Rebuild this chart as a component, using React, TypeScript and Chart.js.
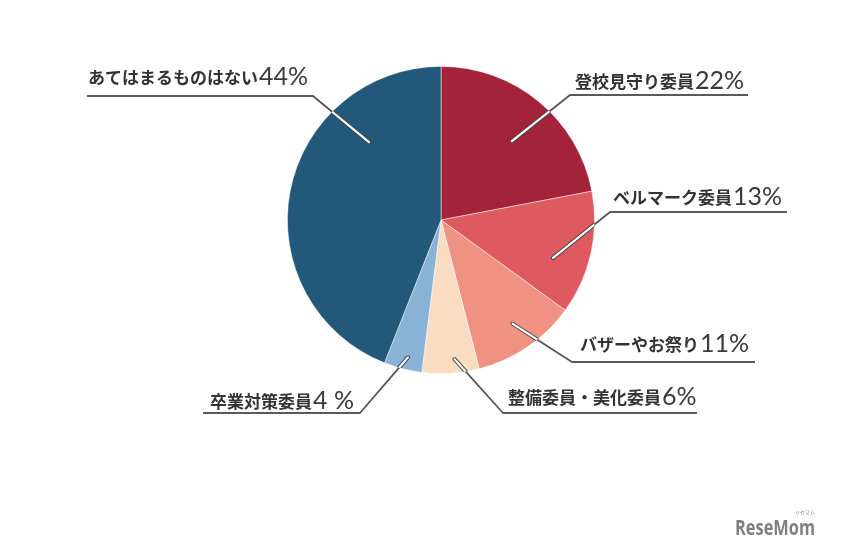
import React, { useEffect, useRef } from "react";
import { Chart, registerables } from "chart.js";

Chart.register(...registerables);

const categories = [
  "登校見守り委員",
  "ベルマーク委員",
  "バザーやお祭り",
  "整備委員・美化委員",
  "卒業対策委員",
  "あてはまるものはない",
];
const values = [22, 13, 11, 6, 4, 44];
const percentLabels = ["22%", "13%", "11%", "6%", "4 %", "44%"];
const colors = ["#A3243A", "#DE5A60", "#EF9282", "#FADCC2", "#88B3D6", "#22587A"];

// Label layout (annotation positions): fraction along slice, radius fraction, text & underline geometry
const labelLayout = [
  { f: 0.53, rf: 0.69, tx: 575, ty: 82, uy: 95, ux0: 570, ux1: 748, side: "right" },
  { f: 0.63, rf: 0.77, tx: 613, ty: 198, uy: 212, ux0: 610, ux1: 787, side: "right" },
  { f: 0.49, rf: 0.82, tx: 580, ty: 345, uy: 362, ux0: 572, ux1: 755, side: "right" },
  { f: 0.41, rf: 0.91, tx: 508, ty: 398, uy: 413, ux0: 503, ux1: 697, side: "right" },
  { f: 0.44, rf: 0.92, tx: 210, ty: 402, uy: 413, ux0: 203, ux1: 360, side: "left" },
  { f: 0.73, rf: 0.69, tx: 88, ty: 78, uy: 96, ux0: 87, ux1: 313, side: "left" },
];

const JP_FONT = "bold 17px 'Noto Sans CJK JP', 'Noto Sans', sans-serif";
const NUM_FONT = "400 25px Lato, 'Open Sans', sans-serif";

const labelPlugin = {
  id: "leaderLabels",
  afterDatasetsDraw(chart: any) {
    const ctx = chart.ctx as CanvasRenderingContext2D;
    const meta = chart.getDatasetMeta(0);
    const first = meta.data[0] as any;
    const cx = first.x;
    const cy = first.y;
    const R = first.outerRadius;
    ctx.save();
    labelLayout.forEach((L, i) => {
      const arc = meta.data[i] as any;
      const a = arc.startAngle + L.f * (arc.endAngle - arc.startAngle);
      const px = cx + Math.cos(a) * R * L.rf;
      const py = cy + Math.sin(a) * R * L.rf;
      const jx = L.side === "right" ? L.ux0 : L.ux1;
      const jy = L.uy;

      // underline
      ctx.beginPath();
      ctx.moveTo(L.ux0, L.uy);
      ctx.lineTo(L.ux1, L.uy);
      ctx.strokeStyle = "#5a5a5a";
      ctx.lineWidth = 1.8;
      ctx.lineCap = "butt";
      ctx.stroke();

      // diagonal outside part
      ctx.beginPath();
      ctx.moveTo(jx, jy);
      ctx.lineTo(px, py);
      ctx.strokeStyle = "#555";
      ctx.lineWidth = 1.8;
      ctx.lineCap = "round";
      ctx.stroke();

      // inside the pie: white core with dark edges
      ctx.save();
      ctx.beginPath();
      ctx.arc(cx, cy, R, 0, Math.PI * 2);
      ctx.clip();
      ctx.beginPath();
      ctx.moveTo(jx, jy);
      ctx.lineTo(px, py);
      ctx.strokeStyle = "#444";
      ctx.lineWidth = 4;
      ctx.lineCap = "round";
      ctx.stroke();
      ctx.beginPath();
      ctx.moveTo(jx, jy);
      ctx.lineTo(px, py);
      ctx.strokeStyle = "#ffffff";
      ctx.lineWidth = 2.2;
      ctx.stroke();
      ctx.restore();

      // text
      ctx.textBaseline = "middle";
      ctx.textAlign = "left";
      ctx.fillStyle = "#333333";
      ctx.font = JP_FONT;
      ctx.fillText(categories[i], L.tx, L.ty);
      const w = ctx.measureText(categories[i]).width;
      ctx.font = NUM_FONT;
      ctx.fillStyle = "#3a3a3a";
      ctx.fillText(percentLabels[i], L.tx + w + 1, L.ty - 1);
    });

    // watermark
    ctx.fillStyle = "#7f7f7f";
    ctx.textBaseline = "alphabetic";
    ctx.textAlign = "left";
    ctx.font = "bold 22px 'Open Sans', 'Noto Sans', sans-serif";
    const mw = ctx.measureText("ReseMom").width;
    ctx.save();
    ctx.translate(735, 535);
    ctx.scale(80 / mw, 1);
    ctx.fillText("ReseMom", 0, 0);
    ctx.restore();
    ctx.font = "5px 'Noto Sans CJK JP', sans-serif";
    ctx.fillText("リセマム", 795, 514);
    ctx.restore();
  },
};

export default function App() {
  const ref = useRef<HTMLCanvasElement | null>(null);
  useEffect(() => {
    if (!ref.current) return;
    const chart = new Chart(ref.current, {
      type: "pie",
      data: {
        labels: categories,
        datasets: [
          {
            data: values,
            backgroundColor: colors,
            borderColor: "rgba(255,255,255,0.6)",
            borderWidth: 0.8,
          },
        ],
      },
      options: {
        responsive: false,
        animation: false,
        layout: { padding: { left: 287, right: 250, top: 66, bottom: 174 } },
        plugins: {
          legend: { display: false },
          tooltip: { enabled: false },
        },
      },
      plugins: [labelPlugin],
    });
    return () => chart.destroy();
  }, []);
  return (
    <div style={{ position: "fixed", left: 0, top: 0, width: 845, height: 548, background: "#fff" }}>
      <canvas ref={ref} width={845} height={548} style={{ display: "block" }} />
    </div>
  );
}
